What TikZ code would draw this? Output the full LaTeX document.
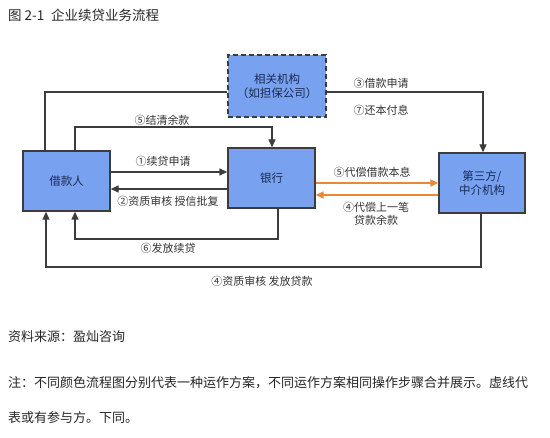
\documentclass[tikz,border=0pt]{standalone}
\usepackage{fontspec}
\setmainfont{Noto Sans CJK SC}
\usetikzlibrary{arrows.meta}
\definecolor{boxfill}{HTML}{78A2F0}
\definecolor{boxline}{HTML}{3C3C3C}
\definecolor{boxtext}{HTML}{1A2A50}
\definecolor{lbl}{HTML}{333333}
\definecolor{orng}{HTML}{E8893A}
\tikzset{
  blk/.style={draw=boxline, line width=1.4pt, fill=boxfill, text=boxtext, font=\fontsize{11.5}{14.5}\selectfont, align=center, inner sep=0pt},
  conn/.style={draw=boxline, line width=1.4pt},
  arr/.style={conn, -{Triangle[length=8pt,width=7pt]}},
  oarr/.style={draw=orng, line width=1.6pt, -{Triangle[length=8pt,width=7pt]}},
  lab/.style={text=lbl, font=\fontsize{11}{13.5}\selectfont, inner sep=0pt, align=center},
  body/.style={text=black!85, font=\fontsize{13}{15}\selectfont, inner sep=0pt, anchor=west},
}
\begin{document}
\begin{tikzpicture}[x=1pt,y=-1pt]
\useasboundingbox[fill=white] (0,0) rectangle (550,438);
\node[body, font=\fontsize{13.5}{15}\selectfont] (title) at (8,15) {图 2-1\hspace{0.5em}企业续贷业务流程};
% boxes
\node[blk, dashed, dash pattern=on 5pt off 3pt, minimum width=98pt, minimum height=62pt] (rel) at (277,86) {相关机构\\（如担保公司）};
\node[blk, minimum width=87pt, minimum height=60pt] (bor) at (66.5,181) {借款人};
\node[blk, minimum width=87pt, minimum height=60pt] (bank) at (271.5,178) {银行};
\node[blk, minimum width=86pt, minimum height=60pt] (third) at (482,183) {第三方/\\中介机构};
% coordinates
\coordinate (a1) at (45,92);
\coordinate (a2) at (483,92);
\coordinate (b1) at (75,127);
\coordinate (b2) at (272,127);
\coordinate (c1) at (278,239);
\coordinate (c2) at (75,239);
\coordinate (d1) at (481,267);
\coordinate (d2) at (46,267);
% connectors
\draw[conn] (bor.north -| a1) |- (rel.west |- a1);
\draw[arr] (rel.east |- a2) -| (third.north -| a2);
\draw[arr] (bor.north -| b1) |- (b2) -- (bank.north -| b2);
\draw[arr] (bor.east |- 0,172) -- (bank.west |- 0,172);
\draw[arr] (bank.west |- 0,189) -- (bor.east |- 0,189);
\draw[arr] (bank.south -| c1) |- (c2) -- (bor.south -| c2);
\draw[arr] (third.south -| d1) |- (d2) -- (bor.south -| d2);
\draw[oarr] (bank.east |- 0,183) -- (third.west |- 0,183);
\draw[oarr] (third.west |- 0,195) -- (bank.east |- 0,195);
% labels
\node[lab] (l3) at (381,83) {③借款申请};
\node[lab] (l7) at (381,110) {⑦还本付息};
\node[lab] (l5) at (162,120) {⑤结清余款};
\node[lab] (l1) at (163,161) {①续贷申请};
\node[lab] (l2) at (168,201) {②资质审核 授信批复};
\node[lab] (l6) at (168,248) {⑥发放续贷};
\node[lab] (l5b) at (372,172) {⑤代偿借款本息};
\node[lab] (l4b) at (376,214) {④代偿上一笔\\贷款余款};
\node[lab] (l4) at (262,281) {④资质审核 发放贷款};
% notes
\node[body] (src) at (8,337) {资料来源：盈灿咨询};
\node[body, font=\fontsize{13}{16}\selectfont] (n1) at (8,383) {注：不同颜色流程图分别代表一种运作方案，不同运作方案相同操作步骤合并展示。虚线代};
\node[body] (n2) at (8,418) {表或有参与方。下同。};
\end{tikzpicture}
\end{document}
